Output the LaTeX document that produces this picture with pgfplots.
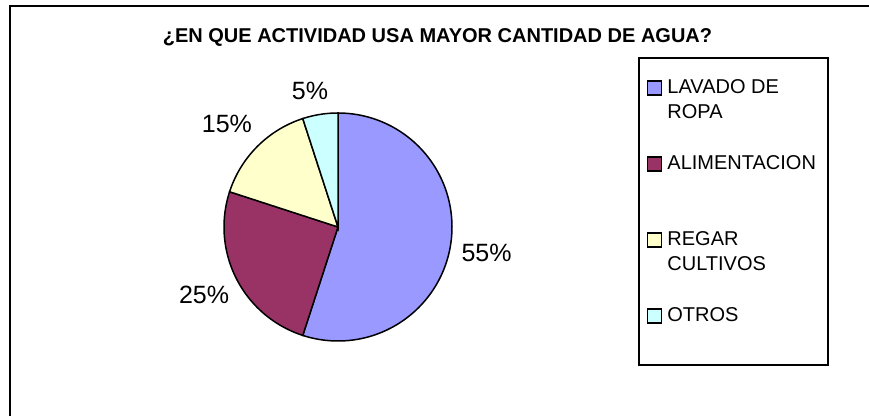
\documentclass[border=0pt]{standalone}
\usepackage{fontspec}
\setmainfont{Liberation Sans}
\usepackage{pgfplots}
\pgfplotsset{compat=1.18}
\definecolor{cA}{HTML}{9999FF}
\definecolor{cB}{HTML}{993366}
\definecolor{cC}{HTML}{FFFFCC}
\definecolor{cD}{HTML}{CCFFFF}
% shares (percent)
\def\pA{55}\def\pB{25}\def\pC{15}\def\pD{5}
\begin{document}
\begin{tikzpicture}
\useasboundingbox (0pt,0pt) rectangle (869pt,415pt);
\draw[line width=2pt] (10pt,-5pt) -- (10pt,408.5pt) -- (880pt,408.5pt);
\node[anchor=base, inner sep=0pt, font=\bfseries\fontsize{20}{24}\selectfont] at (437.5pt,372pt) {¿EN QUE ACTIVIDAD USA MAYOR CANTIDAD DE AGUA?};
\pgfmathsetmacro\aA{90-3.6*\pA}
\pgfmathsetmacro\aB{\aA-3.6*\pB}
\pgfmathsetmacro\aC{\aB-3.6*\pC}
\pgfmathsetmacro\aD{\aC-3.6*\pD}
\begin{axis}[at={(338pt,188pt)}, anchor=center, scale only axis,
  width=228pt, height=228pt, xmin=-1, xmax=1, ymin=-1, ymax=1,
  hide axis, clip=false,
  legend style={at={(1.8158,1.2456)}, anchor=north west, draw=black, line width=2pt,
    inner sep=0pt, font=\fontsize{20}{25}\selectfont,
    nodes={inner sep=0pt, text depth={}, anchor=base west},
    cells={anchor=base west},
    column sep=0pt, row sep=0pt,
    /tikz/column 1/.style={column sep=5pt}},
  legend image code/.code={\path (-8pt,0pt); \draw[#1, draw=black, line width=1.3pt] (0pt,-2pt) rectangle (14pt,12pt);},
]
\addplot[fill=cA, draw=black, line width=1.5pt, domain=\aA:90, samples=120] ({cos(x)},{sin(x)}) -- (axis cs:0,0) -- cycle;
\addlegendentry{\parbox[t]{161pt}{\rule{0pt}{35pt}LAVADO DE\newline ROPA\rule[-36pt]{0pt}{36pt}}}
\addplot[fill=cB, draw=black, line width=1.5pt, domain=\aB:\aA, samples=60] ({cos(x)},{sin(x)}) -- (axis cs:0,0) -- cycle;
\addlegendentry{\parbox[t]{161pt}{\rule[-61pt]{0pt}{76pt}ALIMENTACION}}
\addplot[fill=cC, draw=black, line width=1.5pt, domain=\aC:\aB, samples=40] ({cos(x)},{sin(x)}) -- (axis cs:0,0) -- cycle;
\addlegendentry{\parbox[t]{161pt}{\rule{0pt}{15pt}REGAR\newline CULTIVOS\rule[-36pt]{0pt}{36pt}}}
\addplot[fill=cD, draw=black, line width=1.5pt, domain=\aD:\aC, samples=20] ({cos(x)},{sin(x)}) -- (axis cs:0,0) -- cycle;
\addlegendentry{\parbox[t]{161pt}{\rule[-44pt]{0pt}{59pt}OTROS}}
\node[anchor=base, inner sep=0pt, font=\fontsize{25}{30}\selectfont] at (axis cs:1.303,-0.307) {55\%};
\node[anchor=base, inner sep=0pt, font=\fontsize{25}{30}\selectfont] at (axis cs:-1.175,-0.667) {25\%};
\node[anchor=base, inner sep=0pt, font=\fontsize{25}{30}\selectfont] at (axis cs:-0.974,0.825) {15\%};
\node[anchor=base, inner sep=0pt, font=\fontsize{25}{30}\selectfont] at (axis cs:-0.246,1.114) {5\%};
\end{axis}
\end{tikzpicture}
\end{document}
